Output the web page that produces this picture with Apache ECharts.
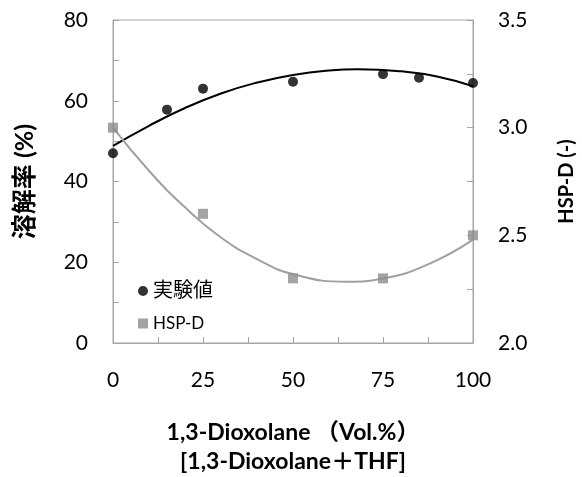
<!DOCTYPE html>
<html><head><meta charset="utf-8">
<script src="https://cdn.jsdelivr.net/npm/echarts@6/dist/echarts.min.js"></script>
<style>html,body{margin:0;padding:0;background:#fff}#c{width:582px;height:477px}</style>
</head><body><div id="c"></div>
<script>
// Measured data (x = 1,3-Dioxolane vol.%)
const expX = [0, 15, 25, 50, 75, 85, 100];
const expY = [47, 57.8, 63, 64.7, 66.6, 65.7, 64.4];
const hspX = [0, 25, 50, 75, 100];
const hspY = [3.0, 2.6, 2.3, 2.3, 2.5];
// Trend curves
const expTrendX = [0, 10, 20, 30, 40, 50, 60, 68, 80, 90, 100];
const expTrendY = [48.8, 53.8, 58.2, 61.8, 64.5, 66.4, 67.5, 67.8, 67.3, 66.0, 63.6];
const hspTrendX = [0, 10, 20, 30, 40, 50, 65, 75, 87.5, 100];
const hspTrendY = [3.0, 2.80, 2.63, 2.49, 2.39, 2.32, 2.285, 2.30, 2.365, 2.48];
const leftTicks = [0, 20, 40, 60, 80];
const rightTicks = [2.0, 2.5, 3.0, 3.5];
const xTicks = [0, 25, 50, 75, 100];

const FONT = "Lato, 'Noto Sans CJK JP', sans-serif";
const zip = (a, b) => a.map((v, i) => [v, b[i]]);
const chart = echarts.init(document.getElementById('c'));
const axisGray = '#a6a6a6';
const tickCfg = { show: true, inside: true, length: 6, lineStyle: { color: axisGray } };
const minorCfg = { show: true, splitNumber: 2, length: 6, lineStyle: { color: axisGray } };
chart.setOption({
  animation: false,
  textStyle: { fontFamily: FONT },
  grid: { left: 113, right: 109, top: 20, bottom: 134, outerBoundsMode: 'none', containLabel: false,
          show: true, borderColor: axisGray, borderWidth: 1 },
  xAxis: {
    type: 'value', min: xTicks[0], max: xTicks[xTicks.length - 1], interval: 25,
    axisLine: { lineStyle: { color: axisGray } },
    axisTick: tickCfg, minorTick: minorCfg,
    splitLine: { show: false },
    axisLabel: { color: '#000', fontSize: 21, margin: 27, fontFamily: FONT },
    name: '1,3-Dioxolane （Vol.%）\n[1,3-Dioxolane＋THF]',
    nameLocation: 'middle', nameGap: 75,
    nameTextStyle: { color: '#000', fontSize: 23, fontWeight: 'bold', lineHeight: 29, fontFamily: FONT }
  },
  yAxis: [{
    type: 'value', min: leftTicks[0], max: leftTicks[leftTicks.length - 1], interval: 20,
    axisLine: { show: true, lineStyle: { color: axisGray } },
    axisTick: tickCfg, minorTick: minorCfg,
    splitLine: { show: false },
    axisLabel: { color: '#000', fontSize: 21, margin: 25, fontFamily: FONT },
    name: '溶解率 (%)', nameLocation: 'middle', nameGap: 76,
    nameTextStyle: { color: '#000', fontSize: 25, fontWeight: 'bold', fontFamily: FONT }
  }, {
    type: 'value', min: rightTicks[0], max: rightTicks[rightTicks.length - 1], interval: 0.5,
    position: 'right',
    axisLine: { show: true, lineStyle: { color: axisGray } },
    axisTick: tickCfg, minorTick: minorCfg,
    splitLine: { show: false },
    axisLabel: { color: '#000', fontSize: 21, margin: 25, fontFamily: FONT, formatter: v => v.toFixed(1) },
    name: 'HSP-D (-)', nameLocation: 'middle', nameGap: 84,
    nameTextStyle: { color: '#000', fontSize: 20, fontWeight: 'bold', fontFamily: FONT }
  }],
  legend: {
    orient: 'vertical', left: 133, top: 276, itemWidth: 10, itemHeight: 10, itemGap: 14, itemTextGap: 5,
    data: [
      { name: '実験値', icon: 'circle', textStyle: { fontSize: 20, color: '#000' } },
      { name: 'HSP-D', icon: 'rect', textStyle: { fontSize: 17, color: '#000' } }
    ],
    textStyle: { fontFamily: FONT }
  },
  series: [
    { name: '実験値trend', type: 'line', yAxisIndex: 0, smooth: true, showSymbol: false, silent: true,
      data: zip(expTrendX, expTrendY), lineStyle: { color: '#000', width: 2 } },
    { name: 'HSP-Dtrend', type: 'line', yAxisIndex: 1, smooth: true, showSymbol: false, silent: true,
      data: zip(hspTrendX, hspTrendY), lineStyle: { color: '#a0a0a0', width: 2 } },
    { name: '実験値', type: 'scatter', yAxisIndex: 0, symbol: 'circle', symbolSize: 10,
      itemStyle: { color: '#000' }, data: zip(expX, expY), z: 5 },
    { name: 'HSP-D', type: 'scatter', yAxisIndex: 1, symbol: 'rect', symbolSize: 10,
      itemStyle: { color: '#8c8c8c' }, data: zip(hspX, hspY), z: 5 }
  ]
});
</script></body></html>
